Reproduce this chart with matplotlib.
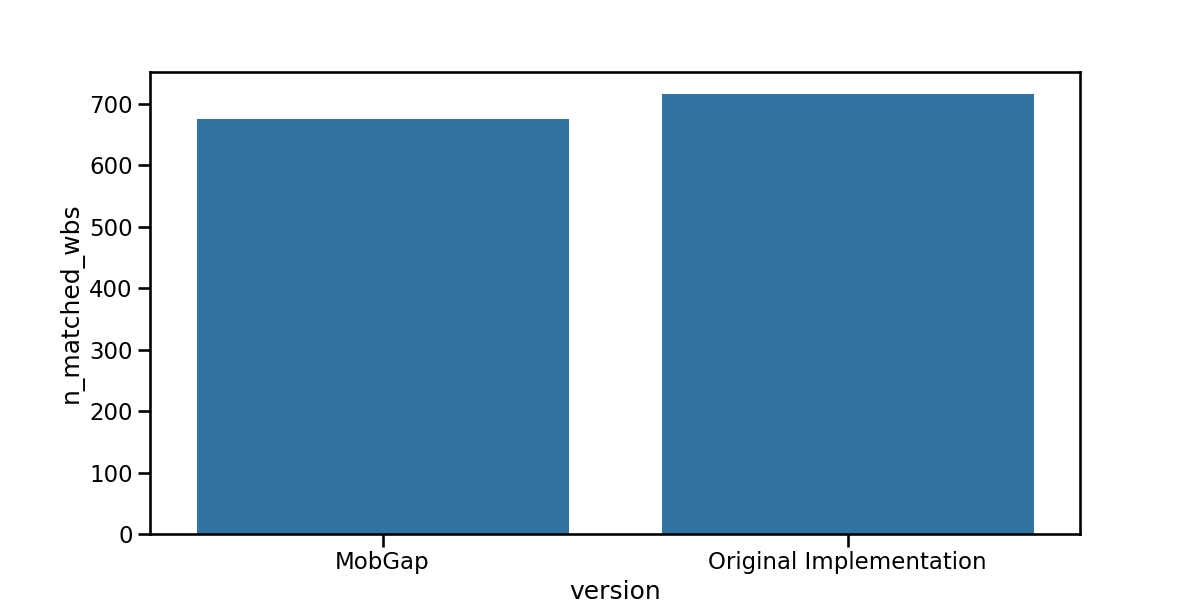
import matplotlib
matplotlib.use("Agg")
import matplotlib.pyplot as plt
import seaborn as sns
import pandas as pd

versions = ["MobGap", "Original Implementation"]
n_matched_wbs = [675, 716]

sns.set_context("talk")
df = pd.DataFrame({"version": versions, "n_matched_wbs": n_matched_wbs})
fig, ax = plt.subplots(figsize=(12, 6), dpi=100)
sns.barplot(data=df, x="version", y="n_matched_wbs", ax=ax)
fig.savefig("out.png", dpi=100)
